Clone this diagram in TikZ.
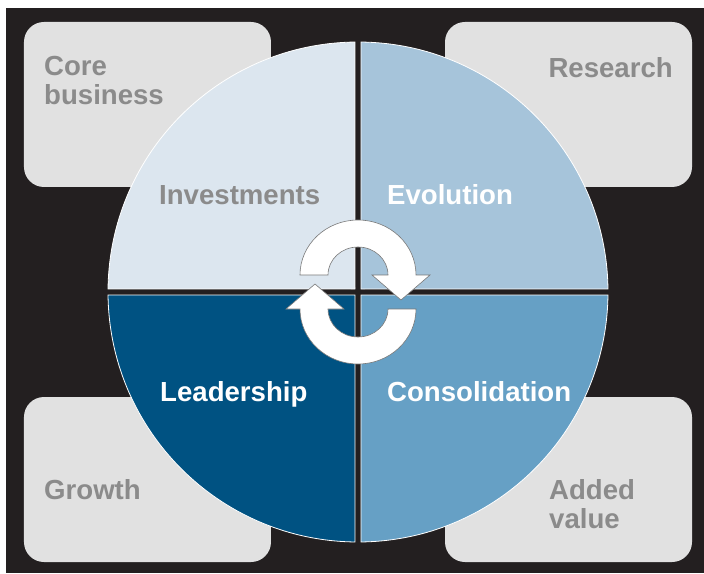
\documentclass[tikz,border=0pt]{standalone}
\usepackage{fontspec}
\setmainfont{Liberation Sans}
\usepackage{tikz}
\definecolor{bgdark}{RGB}{35,31,32}
\definecolor{boxgray}{RGB}{225,225,225}
\definecolor{labelgray}{RGB}{139,139,139}
\definecolor{invcolor}{RGB}{220,230,239}
\definecolor{evocolor}{RGB}{166,196,218}
\definecolor{leadcolor}{RGB}{0,82,130}
\definecolor{conscolor}{RGB}{102,160,197}
\definecolor{arrowedge}{RGB}{120,120,120}

\begin{document}
\begin{tikzpicture}[x=1pt,y=1pt,
    lbl/.style={inner sep=0pt,font=\fontsize{27.6}{29}\selectfont\bfseries}]
  \def\R{250}
  \def\g{3}
  \useasboundingbox (-358,-281) rectangle (346,292);
  \fill[white] (-358,-281) rectangle (346,292);
  \fill[bgdark] (-352,-281) rectangle (346,284);
  % corner boxes
  \foreach \sx in {-1,1}
    \foreach \sy in {-1,1}
      \fill[boxgray,rounded corners=20pt] (\sx*87,\sy*105) rectangle (\sx*334,\sy*270);
  % four quadrants of the disc, split by a dark cross
  \foreach \a/\c in {0/evocolor,90/invcolor,180/leadcolor,270/conscolor}
    \filldraw[fill=\c,draw=white,line width=0.8pt,rotate=\a]
      (\g,\g) -- (0.7:\R) arc[start angle=0.7,end angle=89.3,radius=\R] -- cycle;
  % cycle arrows in the middle
  \foreach \a in {0,180}
    \filldraw[fill=white,draw=arrowedge,line width=0.6pt,rotate=\a]
      (-58,17) arc[start angle=180,end angle=0,x radius=58,y radius=55]
      -- (72,17) -- (43,-8) -- (14,17) -- (30,17)
      arc[start angle=0,end angle=180,x radius=30,y radius=28] -- cycle;
  % labels
  \node[lbl,labelgray,anchor=base west] (invest) at (-199,88) {Investments};
  \node[lbl,white,anchor=base west] (evol) at (29,88) {Evolution};
  \node[lbl,white,anchor=base west] (lead) at (-198,-109) {Leadership};
  \node[lbl,white,anchor=base west] (consol) at (29,-109) {Consolidation};
  \node[lbl,labelgray,anchor=north west,align=left] (core) at (-314,235.5) {Core\\business};
  \node[lbl,labelgray,anchor=base east] (research) at (315,214) {Research};
  \node[lbl,labelgray,anchor=base west] (growth) at (-314,-207) {Growth};
  \node[lbl,labelgray,anchor=north west,align=left] (added) at (191,-187) {Added\\value};
\end{tikzpicture}
\end{document}
